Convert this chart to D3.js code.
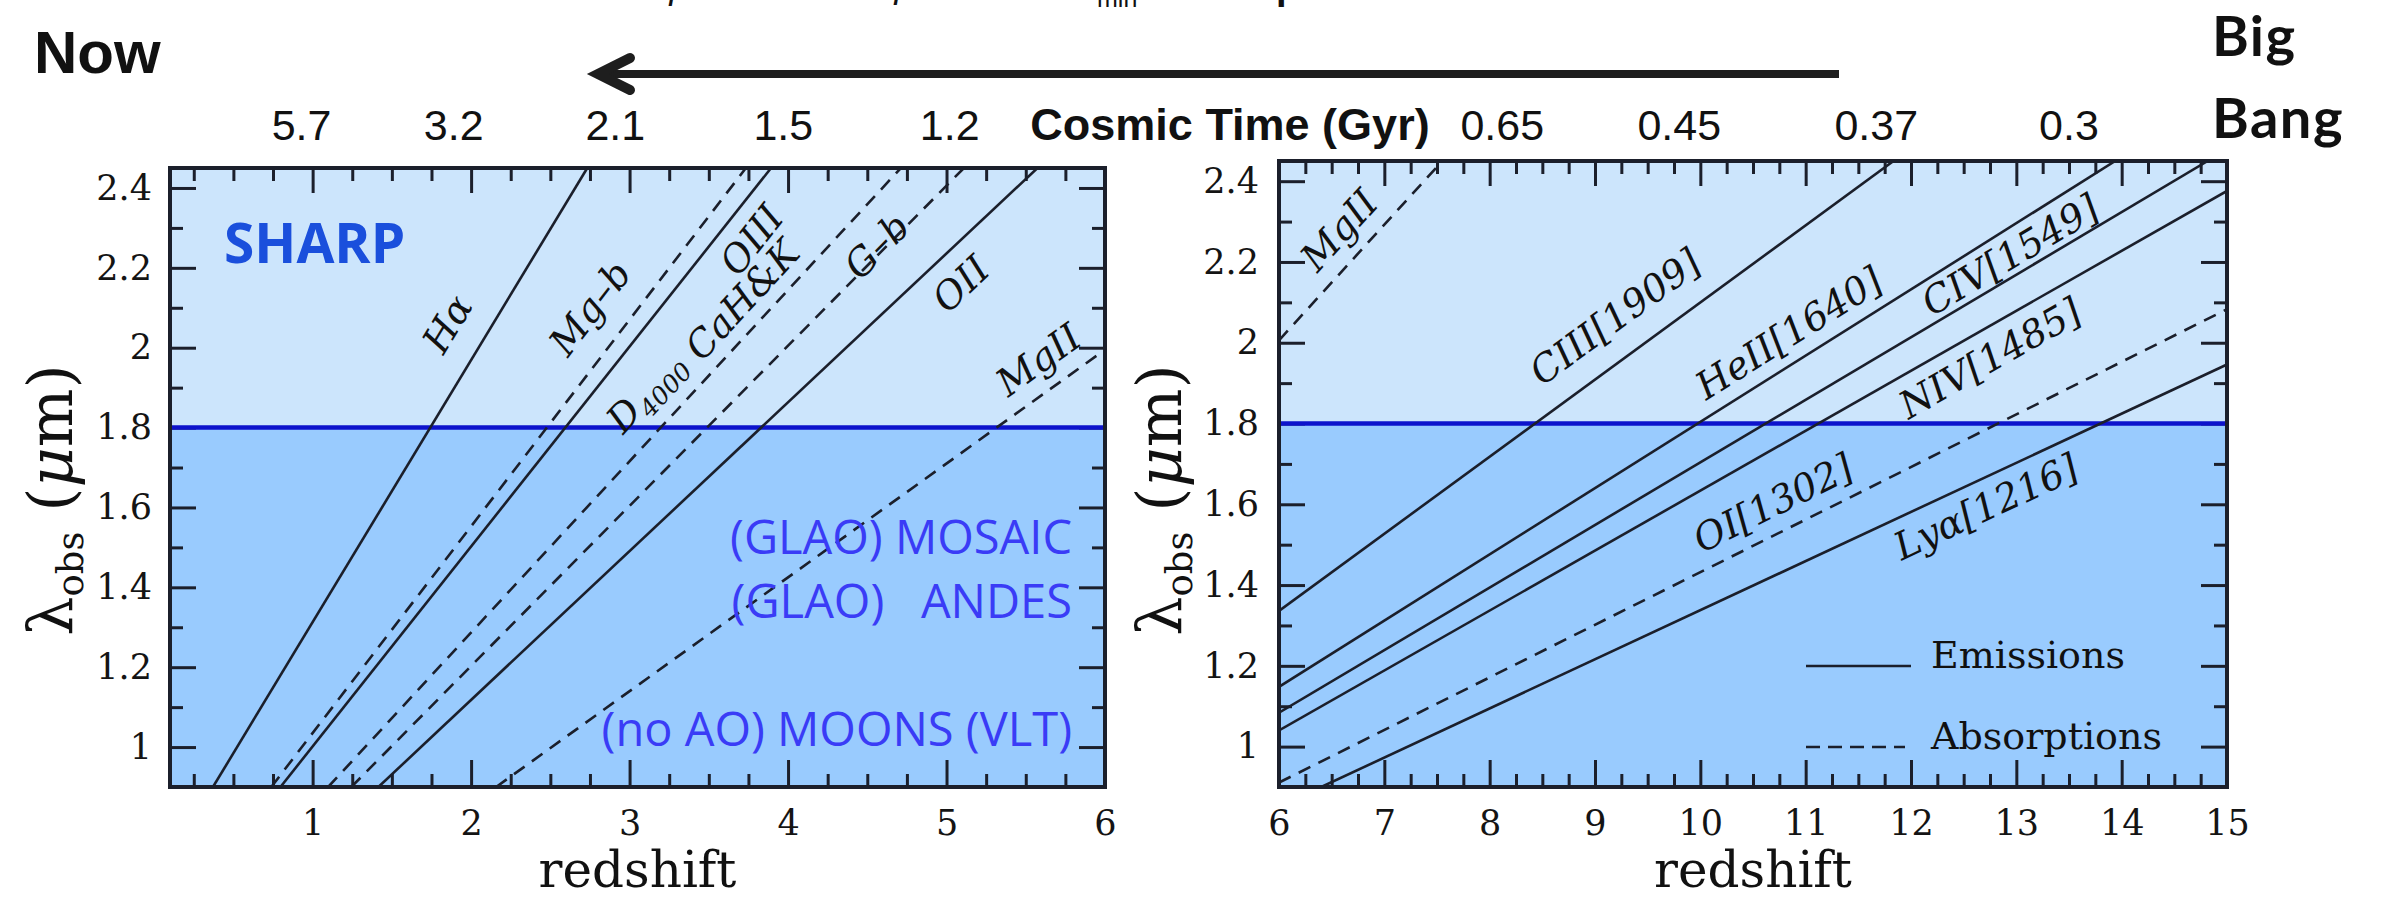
<!DOCTYPE html>
<html>
<head>
<meta charset="utf-8">
<script src="https://cdn.jsdelivr.net/npm/d3@7"></script>
<style>
  body { margin: 0; background: #fff; }
  svg { display: block; }
  .tick text { font-family: "DejaVu Serif", serif; fill: #141414; }
</style>
</head>
<body>
<svg id="chart" width="2387" height="901"></svg>
<script>
// ---- data ----
var lowZTicks = [1, 2, 3, 4, 5, 6];
var highZTicks = [6, 7, 8, 9, 10, 11, 12, 13, 14, 15];
var lamTicks = [1, 1.2, 1.4, 1.6, 1.8, 2, 2.2, 2.4];
var lamTickLabels = ["1", "1.2", "1.4", "1.6", "1.8", "2", "2.2", "2.4"];
var lamCut = 1.8;   // boundary between the two shaded bands

// cosmic time labels and the redshift each one sits over
var timeLowZ = [0.93, 1.89, 2.91, 3.97, 5.02];
var timeLowText = ["5.7", "3.2", "2.1", "1.5", "1.2"];
var timeHighZ = [8.12, 9.8, 11.67, 13.5];
var timeHighText = ["0.65", "0.45", "0.37", "0.3"];

// features: two ends [z, lambda] of each line
var lowLines = [
  { name: "Ha",    kind: "em", z: [0.371, 2.733], lam: [0.9, 2.45] },
  { name: "Mgb",   kind: "ab", z: [0.739, 3.734], lam: [0.9, 2.45] },
  { name: "OIII",  kind: "em", z: [0.797, 3.893], lam: [0.9, 2.45] },
  { name: "CaHK",  kind: "ab", z: [1.098, 4.712], lam: [0.9, 2.45] },
  { name: "Gb",    kind: "ab", z: [1.244, 5.110], lam: [0.9, 2.45] },
  { name: "OII",   kind: "em", z: [1.415, 5.574], lam: [0.9, 2.45] },
  { name: "MgII",  kind: "ab", z: [2.158, 6.0],   lam: [0.9, 1.995] }
];
var highLines = [
  { name: "MgII", kind: "ab", z: [6, 7.551],  lam: [2.006, 2.45] },
  { name: "CIII", kind: "em", z: [6, 11.834], lam: [1.336, 2.45] },
  { name: "HeII", kind: "em", z: [6, 13.939], lam: [1.148, 2.45] },
  { name: "CIV",  kind: "em", z: [6, 14.817], lam: [1.084, 2.45] },
  { name: "NIV",  kind: "em", z: [6, 15],     lam: [1.040, 2.376] },
  { name: "OI",   kind: "ab", z: [6, 15],     lam: [0.911, 2.083] },
  { name: "Lya",  kind: "em", z: [6.401, 15], lam: [0.9, 1.946] }
];

// line names: text, optional subscript, centre [z, lambda], line it follows
var lowNotes = [
  { text: "Hα",    sub: "",     at: [1.85, 2.06],  line: "Ha" },
  { text: "Mg–b",  sub: "",     at: [2.75, 2.10],  line: "Mgb" },
  { text: "OIII",  sub: "",     at: [3.77, 2.27],  line: "OIII" },
  { text: "D",     sub: "4000", at: [3.10, 1.89],  line: "CaHK" },
  { text: "CaH&K", sub: "",     at: [3.71, 2.12],  line: "CaHK" },
  { text: "G–b",   sub: "",     at: [4.56, 2.255], line: "Gb" },
  { text: "OII",   sub: "",     at: [5.09, 2.16],  line: "OII" },
  { text: "MgII",  sub: "",     at: [5.58, 1.97],  line: "MgII" }
];
var highNotes = [
  { text: "MgII",       sub: "", at: [6.57, 2.279],  line: "MgII" },
  { text: "CIII[1909]", sub: "", at: [9.19, 2.064],  line: "CIII" },
  { text: "HeII[1640]", sub: "", at: [10.84, 2.024], line: "HeII" },
  { text: "CIV[1549]",  sub: "", at: [12.94, 2.217], line: "CIV" },
  { text: "NIV[1485]",  sub: "", at: [12.75, 1.962], line: "NIV" },
  { text: "OI[1302]",   sub: "", at: [10.69, 1.603], line: "OI" },
  { text: "Lyα[1216]",  sub: "", at: [12.71, 1.594], line: "Lya" }
];

var legendItems = [
  { label: "Emissions", kind: "em" },
  { label: "Absorptions", kind: "ab" }
];

var instruments = ["(GLAO) MOSAIC", "(GLAO)   ANDES", "(no AO) MOONS (VLT)"];

// ---- drawing ----
var ink = "#1b1f2b";
var lightBand = "#cce5fc", darkBand = "#99cbfe", cutBlue = "#0d13cc";
var dashes = { em: null, ab: "13,9" };

var svg = d3.select("#chart");

function panel(opt) {
  var x = d3.scaleLinear().domain(opt.xDomain).range([opt.left, opt.right]);
  var y = d3.scaleLinear().domain([0.9, 2.45]).range([787, opt.top]);
  var g = svg.append("g");

  var clipId = "clip" + opt.id;
  svg.append("clipPath").attr("id", clipId)
    .append("rect")
    .attr("x", opt.left).attr("y", opt.top)
    .attr("width", opt.right - opt.left).attr("height", 787 - opt.top);

  // shaded bands
  g.append("rect")
    .attr("x", x.range()[0]).attr("y", y(2.45))
    .attr("width", x.range()[1] - x.range()[0]).attr("height", y(lamCut) - y(2.45))
    .attr("fill", lightBand);
  g.append("rect")
    .attr("x", x.range()[0]).attr("y", y(lamCut))
    .attr("width", x.range()[1] - x.range()[0]).attr("height", y(0.9) - y(lamCut))
    .attr("fill", darkBand);

  // ticks
  var minorX = d3.range(x.domain()[0], x.domain()[1] + 0.001, 0.25)
    .map(function(d) { return Math.round(d * 4) / 4; })
    .filter(function(d) { return d % 1 !== 0 && d > x.domain()[0]; });
  var minorY = d3.range(0.9, 2.45, 0.1)
    .map(function(d) { return Math.round(d * 10) / 10; })
    .filter(function(d) { return lamTicks.indexOf(d) < 0 && d > 0.9; });

  function tickStyle(sel) {
    sel.select(".domain").remove();
    sel.selectAll(".tick line").attr("stroke", ink).attr("stroke-width", 3);
  }
  g.append("g").attr("transform", "translate(0,787)")
    .call(d3.axisBottom(x).tickValues(minorX).tickSize(-13).tickFormat(""))
    .call(tickStyle);
  g.append("g").attr("transform", "translate(0," + opt.top + ")")
    .call(d3.axisTop(x).tickValues(minorX).tickSize(-13).tickFormat(""))
    .call(tickStyle);
  g.append("g").attr("transform", "translate(0," + opt.top + ")")
    .call(d3.axisTop(x).tickValues(opt.zTicks).tickSize(-25).tickFormat(""))
    .call(tickStyle);
  g.append("g").attr("transform", "translate(0,787)")
    .call(d3.axisBottom(x).tickValues(opt.zTicks).tickSize(-27).tickPadding(23)
      .tickFormat(d3.format("d")))
    .call(tickStyle)
    .selectAll("text").attr("font-size", 35);

  g.append("g").attr("transform", "translate(" + opt.left + ",0)")
    .call(d3.axisLeft(y).tickValues(minorY).tickSize(-13).tickFormat(""))
    .call(tickStyle);
  g.append("g").attr("transform", "translate(" + opt.right + ",0)")
    .call(d3.axisRight(y).tickValues(minorY).tickSize(-13).tickFormat(""))
    .call(tickStyle);
  g.append("g").attr("transform", "translate(" + opt.right + ",0)")
    .call(d3.axisRight(y).tickValues(lamTicks).tickSize(-26).tickFormat(""))
    .call(tickStyle);
  g.append("g").attr("transform", "translate(" + opt.left + ",0)")
    .call(d3.axisLeft(y).tickValues(lamTicks).tickSize(-26).tickPadding(opt.yPad)
      .tickFormat(function(d, i) { return lamTickLabels[i]; }))
    .call(tickStyle)
    .selectAll("text").attr("font-size", 35);

  // 1.8 micron cut
  g.append("line")
    .attr("x1", x.range()[0]).attr("x2", x.range()[1])
    .attr("y1", y(lamCut)).attr("y2", y(lamCut))
    .attr("stroke", cutBlue).attr("stroke-width", 4.5);

  // spectral lines
  var lg = g.append("g").attr("clip-path", "url(#" + clipId + ")");
  lg.selectAll("line.feat").data(opt.lines).enter().append("line")
    .attr("class", "feat")
    .attr("x1", function(d) { return x(d.z[0]); })
    .attr("y1", function(d) { return y(d.lam[0]); })
    .attr("x2", function(d) { return x(d.z[1]); })
    .attr("y2", function(d) { return y(d.lam[1]); })
    .attr("stroke", ink).attr("stroke-width", 2.6)
    .attr("stroke-dasharray", function(d) { return dashes[d.kind]; });

  // line names, turned along their line
  var byName = {};
  opt.lines.forEach(function(d) { byName[d.name] = d; });
  opt.notes.forEach(function(n) {
    var l = byName[n.line];
    var ang = Math.atan2(y(l.lam[1]) - y(l.lam[0]), x(l.z[1]) - x(l.z[0])) * 180 / Math.PI;
    var t = g.append("text")
      .attr("transform", "translate(" + x(n.at[0]) + "," + y(n.at[1]) + ") rotate(" + ang + ")")
      .attr("text-anchor", "middle").attr("dy", "0.35em")
      .attr("font-family", "DejaVu Serif, serif").attr("font-style", "italic")
      .attr("font-size", 38).attr("fill", "#111");
    t.append("tspan").text(n.text);
    if (n.sub) t.append("tspan").attr("font-size", 25).attr("dy", 9).text(n.sub);
  });

  // frame
  g.append("rect")
    .attr("x", opt.left).attr("y", opt.top)
    .attr("width", opt.right - opt.left).attr("height", 787 - opt.top)
    .attr("fill", "none").attr("stroke", ink).attr("stroke-width", 4);

  // x title
  g.append("text")
    .attr("x", (opt.left + opt.right) / 2).attr("y", 887)
    .attr("text-anchor", "middle")
    .attr("font-family", "DejaVu Serif, serif").attr("font-size", 50).attr("fill", "#111")
    .text("redshift");

  // y title
  var yt = g.append("text")
    .attr("transform", "translate(" + opt.yTitleX + ",500) rotate(-90)")
    .attr("text-anchor", "middle")
    .attr("font-family", "DejaVu Serif, serif").attr("font-size", 62).attr("fill", "#111");
  yt.append("tspan").text("λ");
  yt.append("tspan").attr("font-size", 37).attr("dy", 11).text("obs");
  yt.append("tspan").attr("dy", -11).text(" (");
  yt.append("tspan").attr("font-style", "italic").text("μ");
  yt.append("tspan").text("m)");

  // cosmic time along the top
  g.selectAll("text.time").data(opt.timeZ).enter().append("text")
    .attr("class", "time")
    .attr("x", function(d) { return x(d); }).attr("y", 140)
    .attr("text-anchor", "middle")
    .attr("font-family", "Liberation Sans, Arial, sans-serif").attr("font-size", 43)
    .attr("fill", "#111")
    .text(function(d, i) { return opt.timeText[i]; });

  return { x: x, y: y, g: g };
}

var low = panel({
  id: "low", xDomain: [0.1, 6], left: 170, right: 1105, top: 168,
  zTicks: lowZTicks, lines: lowLines, notes: lowNotes, yPad: 18,
  yTitleX: 72, timeZ: timeLowZ, timeText: timeLowText
});
var high = panel({
  id: "high", xDomain: [6, 15], left: 1279, right: 2227, top: 161,
  zTicks: highZTicks, lines: highLines, notes: highNotes, yPad: 20,
  yTitleX: 1181, timeZ: timeHighZ, timeText: timeHighText
});

// instruments reaching each band
low.g.selectAll("text.inst").data(instruments).enter().append("text")
  .attr("class", "inst")
  .attr("x", 1072)
  .attr("y", function(d, i) { return [554, 618, 746][i]; })
  .attr("text-anchor", "end")
  .style("white-space", "pre")
  .attr("font-family", "Open Sans, Noto Sans, sans-serif").attr("font-size", 47)
  .attr("fill", "#3a3cf6")
  .text(function(d) { return d; });

low.g.append("text")
  .attr("x", 224).attr("y", 263)
  .attr("font-family", "Open Sans, sans-serif").attr("font-weight", 700)
  .attr("font-size", 55).attr("fill", "#1a4fdc")
  .text("SHARP");

// legend
var leg = high.g.selectAll("g.leg").data(legendItems).enter().append("g")
  .attr("class", "leg")
  .attr("transform", function(d, i) { return "translate(1806," + (666 + i * 81) + ")"; });
leg.append("line")
  .attr("x1", 0).attr("x2", function(d) { return d.kind === "em" ? 105 : 99; })
  .attr("stroke", ink).attr("stroke-width", 2.6)
  .attr("stroke-dasharray", function(d) { return d.kind === "em" ? null : "14,8"; });
leg.append("text")
  .attr("x", 125).attr("y", 2)
  .attr("font-family", "DejaVu Serif, serif").attr("font-size", 38).attr("fill", "#111")
  .text(function(d) { return d.label; });

// top annotations
svg.append("text")
  .attr("x", 1230).attr("y", 140).attr("text-anchor", "middle")
  .attr("font-family", "Liberation Sans, Arial, sans-serif").attr("font-weight", 700)
  .attr("font-size", 45).attr("fill", "#111")
  .text("Cosmic Time (Gyr)");

svg.append("text")
  .attr("x", 34).attr("y", 73)
  .attr("font-family", "Liberation Sans, Arial, sans-serif").attr("font-weight", 700)
  .attr("font-size", 60).attr("fill", "#111")
  .text("Now");

svg.selectAll("text.bb").data(["Big", "Bang"]).enter().append("text")
  .attr("class", "bb")
  .attr("x", 2212).attr("y", function(d, i) { return [56, 138][i]; })
  .attr("font-family", "Lato, Open Sans, sans-serif").attr("font-weight", 700)
  .attr("font-size", 56).attr("letter-spacing", 1.5).attr("fill", "#111")
  .text(function(d) { return d; });

// time arrow
svg.append("line")
  .attr("x1", 1839).attr("y1", 74).attr("x2", 600).attr("y2", 74)
  .attr("stroke", "#1e1e1e").attr("stroke-width", 8);
svg.append("path")
  .attr("d", "M630,58 L598,74 L630,90")
  .attr("fill", "none").attr("stroke", "#1e1e1e").attr("stroke-width", 10)
  .attr("stroke-linejoin", "miter").attr("stroke-linecap", "round");

// remnants of a title cut off at the top edge
var cut = svg.append("g").attr("font-family", "Liberation Sans, sans-serif").attr("fill", "#111");
cut.append("text").attr("x", 668).attr("y", 6).attr("font-size", 36).attr("font-style", "italic").text("l");
cut.append("text").attr("x", 893).attr("y", 5).attr("font-size", 36).attr("font-style", "italic").text("l");
cut.append("text").attr("x", 1097).attr("y", 7).attr("font-size", 25).text("min");
cut.append("text").attr("x", 1276).attr("y", 7).attr("font-size", 38).attr("font-weight", 700).text("l");
</script>
</body>
</html>
